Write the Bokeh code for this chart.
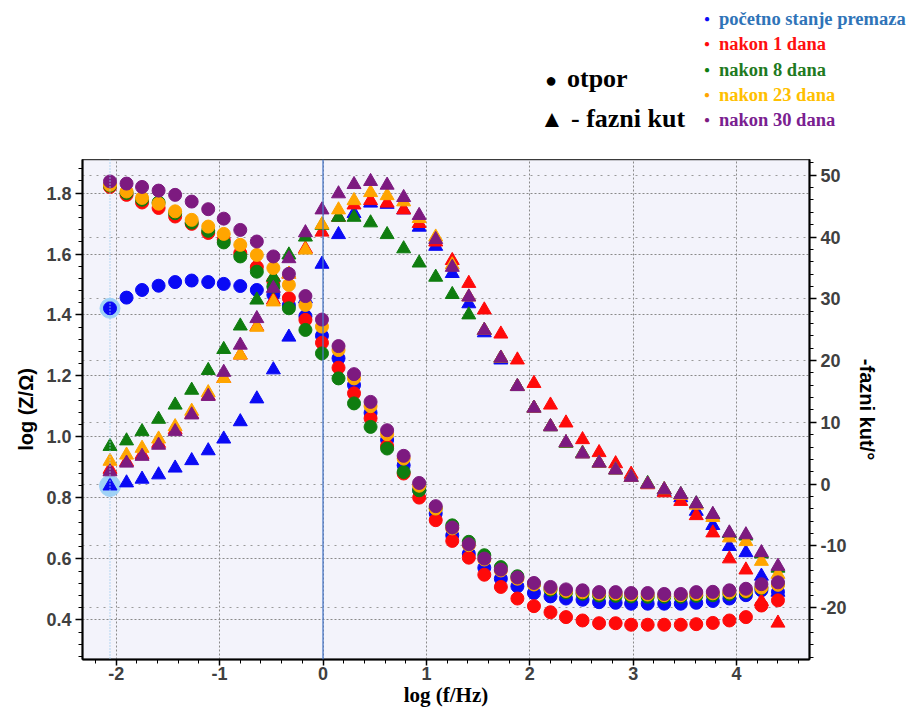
from bokeh.plotting import figure
from bokeh.layouts import column
from bokeh.models import (Range1d, LinearAxis, SingleIntervalTicker, PrintfTickFormatter,
                          Grid, Span, Div)
from bokeh.embed import file_html
from bokeh.resources import INLINE

# log of frequency (Hz)
log_f = [-2.06, -1.90, -1.75, -1.59, -1.43, -1.27, -1.11, -0.96, -0.80, -0.64,
         -0.48, -0.33, -0.17, -0.01, 0.15, 0.30, 0.46, 0.62, 0.78, 0.93,
         1.09, 1.25, 1.41, 1.56, 1.72, 1.88, 2.04, 2.20, 2.35, 2.51,
         2.67, 2.83, 2.98, 3.14, 3.30, 3.46, 3.61, 3.77, 3.93, 4.09,
         4.24, 4.40]

# log |Z| (left axis)
z_pocetno = [1.422, 1.457, 1.482, 1.496, 1.508, 1.513, 1.508, 1.502, 1.495, 1.482,
             1.466, 1.432, 1.396, 1.332, 1.258, 1.170, 1.079, 0.990, 0.907, 0.825,
             0.749, 0.677, 0.617, 0.571, 0.535, 0.510, 0.488, 0.477, 0.470, 0.466,
             0.458, 0.456, 0.453, 0.453, 0.453, 0.453, 0.456, 0.462, 0.470, 0.481,
             0.497, 0.492]
z_1dan = [1.820, 1.794, 1.769, 1.751, 1.723, 1.699, 1.669, 1.647, 1.603, 1.557,
          1.510, 1.455, 1.384, 1.309, 1.227, 1.143, 1.061, 0.970, 0.880, 0.801,
          0.727, 0.659, 0.604, 0.548, 0.508, 0.470, 0.445, 0.425, 0.409, 0.398,
          0.389, 0.389, 0.384, 0.384, 0.384, 0.384, 0.386, 0.390, 0.398, 0.409,
          0.447, 0.464]
z_8dana = [1.824, 1.800, 1.778, 1.769, 1.734, 1.703, 1.676, 1.638, 1.592, 1.542,
           1.493, 1.422, 1.351, 1.274, 1.192, 1.110, 1.033, 0.962, 0.885, 0.825,
           0.766, 0.710, 0.656, 0.612, 0.573, 0.543, 0.517, 0.499, 0.490, 0.486,
           0.480, 0.479, 0.477, 0.476, 0.476, 0.476, 0.479, 0.481, 0.485, 0.492,
           0.505, 0.518]
z_23dana = [1.827, 1.805, 1.784, 1.765, 1.740, 1.712, 1.690, 1.666, 1.630, 1.597,
            1.554, 1.499, 1.433, 1.362, 1.285, 1.192, 1.101, 1.009, 0.929, 0.840,
            0.765, 0.700, 0.645, 0.598, 0.562, 0.535, 0.516, 0.503, 0.495, 0.491,
            0.486, 0.486, 0.483, 0.483, 0.481, 0.481, 0.485, 0.487, 0.490, 0.495,
            0.506, 0.515]
z_30dana = [1.838, 1.831, 1.820, 1.808, 1.794, 1.772, 1.747, 1.716, 1.679, 1.641,
            1.592, 1.535, 1.462, 1.385, 1.298, 1.206, 1.115, 1.022, 0.938, 0.849,
            0.773, 0.703, 0.648, 0.601, 0.565, 0.539, 0.521, 0.508, 0.500, 0.497,
            0.491, 0.491, 0.488, 0.488, 0.485, 0.485, 0.491, 0.492, 0.497, 0.502,
            0.517, 0.523]

# -phase angle in degrees (right axis)
ph_pocetno = [-0.3, 0.2, 0.8, 1.5, 2.6, 3.8, 5.4, 7.3, 10.1, 13.8,
              18.5, 23.8, 30.0, 35.6, 40.4, 43.8, 45.5, 45.3, 44.4, 41.6,
              38.5, 34.1, 29.2, 24.5, 20.1, 15.8, 12.3, 9.3, 6.7, 4.9,
              3.4, 2.3, 1.1, 0.0, -1.2, -2.2, -4.4, -6.7, -10.1, -11.1,
              -14.9, -17.5]
ph_1dan = [2.4, 3.6, 4.8, 6.6, 8.8, 11.3, 14.3, 17.1, 20.9, 25.5,
           29.8, 34.0, 38.1, 40.8, 43.2, 45.2, 45.9, 45.5, 44.4, 42.2,
           39.2, 36.2, 32.5, 28.2, 24.3, 20.1, 16.3, 12.8, 9.9, 7.2,
           5.1, 3.3, 1.6, -0.1, -1.4, -2.8, -5.1, -7.9, -12.1, -13.9,
           -19.0, -22.5]
ph_8dana = [6.1, 7.0, 8.5, 10.5, 12.8, 15.2, 18.4, 21.8, 25.6, 29.8,
            33.5, 37.1, 40.0, 41.9, 43.2, 43.2, 42.3, 40.4, 38.1, 35.8,
            33.5, 30.7, 27.4, 24.9, 20.4, 15.8, 12.3, 9.3, 6.6, 5.0,
            3.4, 2.3, 1.1, 0.1, -0.9, -1.7, -3.2, -5.0, -8.0, -8.4,
            -11.3, -13.6]
ph_23dana = [3.7, 4.7, 5.8, 7.3, 9.3, 11.8, 14.8, 17.1, 20.9, 25.4,
             29.5, 34.0, 37.9, 42.0, 44.4, 45.9, 47.2, 46.7, 45.7, 43.0,
             40.0, 35.5, 30.3, 24.9, 20.4, 15.8, 12.3, 9.3, 6.7, 4.9,
             3.4, 2.3, 1.1, 0.0, -0.9, -1.8, -3.4, -5.4, -8.7, -9.3,
             -12.5, -14.6]
ph_30dana = [2.0, 3.4, 4.5, 6.3, 8.5, 11.2, 14.2, 18.1, 22.5, 26.8,
             31.7, 36.5, 40.7, 44.4, 47.0, 48.5, 49.0, 48.4, 46.4, 43.5,
             39.6, 35.1, 30.3, 24.9, 20.4, 15.8, 12.3, 9.3, 6.7, 4.9,
             3.4, 2.3, 1.1, 0.0, -0.9, -1.7, -3.2, -4.9, -7.9, -8.2,
             -11.1, -13.3]

series_names = ["početno stanje premaza", "nakon 1 dana", "nakon 8 dana",
                "nakon 23 dana", "nakon 30 dana"]
marker_colors = ["#0a0af5", "#ff0a0a", "#0f7d0f", "#ffa500", "#7d1a80"]
text_colors = ["#2f74b8", "#ff1010", "#1f7a1f", "#ffc000", "#7a2090"]
z_series = [z_pocetno, z_1dan, z_8dana, z_23dana, z_30dana]
ph_series = [ph_pocetno, ph_1dan, ph_8dana, ph_23dana, ph_30dana]

W = 914
TOP_H = 159
MAIN_H = 551

# ---------------- legend strip (top, HTML) ----------------
def span(left, center_y, size, color, text):
    top = center_y - size / 2
    return (f'<span style="position:absolute;left:{left}px;top:{top}px;'
            f'font-size:{size}px;line-height:{size}px;color:{color};'
            f'white-space:nowrap;">{text}</span>')

parts = [
    span(545, 80, 20, "black", "●"),
    span(567, 79, 26, "black", "otpor"),
    span(540, 119, 24, "black", "▲"),
    span(571, 119, 26, "black", "- fazni kut"),
]
legend_y = [19, 44, 70, 95, 120]
for name, mc, tc, ly in zip(series_names, marker_colors, text_colors, legend_y):
    parts.append(span(704, ly, 10, mc, "●"))
    parts.append(span(719, ly, 18.5, tc, name))

leg_html = ('<div style="position:relative;width:914px;height:159px;'
            'font-family:\'Liberation Serif\',serif;font-weight:bold;">'
            + "".join(parts) + "</div>")
leg = Div(text=leg_html, width=W, height=TOP_H, margin=0)

# ---------------- main chart ----------------
p = figure(width=W, height=MAIN_H, output_backend="svg", toolbar_location=None,
           x_range=Range1d(-2.326, 4.705), y_range=Range1d(0.27, 1.91),
           min_border_left=82, min_border_right=105, min_border_top=0,
           min_border_bottom=51)
p.extra_y_ranges = {"phase": Range1d(-28.4, 52.55)}
p.background_fill_color = "#f3f3fb"
p.border_fill_color = "white"
p.outline_line_color = "#3a3a3a"
p.outline_line_width = 1.5

tick_font = "Liberation Sans"
x_ticker = SingleIntervalTicker(interval=1, num_minor_ticks=5)
y_ticker = SingleIntervalTicker(interval=0.2, num_minor_ticks=5)
ph_ticker = SingleIntervalTicker(interval=10, num_minor_ticks=5)

xa = p.xaxis[0]
xa.ticker = x_ticker
xa.formatter = PrintfTickFormatter(format="%d")
xa.axis_label = "log (f/Hz)"
ya = p.yaxis[0]
ya.ticker = y_ticker
ya.formatter = PrintfTickFormatter(format="%.1f")
ya.axis_label = "log (Z/Ω)"
ra = LinearAxis(y_range_name="phase", ticker=ph_ticker, axis_label="-fazni kut/°",
                formatter=PrintfTickFormatter(format="%d"))
p.add_layout(ra, "right")

for ax in (xa, ya, ra):
    ax.axis_line_color = "black"
    ax.axis_line_width = 2
    ax.major_tick_line_color = "black"
    ax.minor_tick_line_color = "black"
    ax.major_tick_line_width = 1.5
    ax.major_tick_out = 7
    ax.major_tick_in = 0
    ax.minor_tick_out = 4
    ax.minor_tick_in = 0
    ax.major_label_text_font = tick_font
    ax.major_label_text_font_size = "18px"
    ax.major_label_text_font_style = "bold"
    ax.major_label_text_color = "#404040"
    ax.major_label_standoff = 4
    ax.axis_label_text_font = tick_font
    ax.axis_label_text_font_size = "20px"
    ax.axis_label_text_font_style = "bold"
    ax.axis_label_text_color = "black"
    ax.axis_label_standoff = 6
xa.axis_label_standoff = 0
xa.major_label_standoff = 1
xa.major_tick_out = 6
xa.axis_label_text_font = "Liberation Sans Narrow"
xa.axis_label_text_font_size = "21px"

p.xgrid.ticker = x_ticker
p.ygrid.ticker = y_ticker
for g in (p.xgrid[0], p.ygrid[0]):
    g.grid_line_color = "#8a8a8a"
    g.grid_line_dash = "2 2"
    g.grid_line_width = 1
ph_grid = Grid(dimension=1, ticker=ph_ticker, y_range_name="phase",
               grid_line_color="#9a9a9a", grid_line_dash="2 5", grid_line_width=1)
p.add_layout(ph_grid)

p.add_layout(Span(location=0, dimension="height", line_color="#4a78c8", line_width=1.3))
p.add_layout(Span(location=log_f[0], dimension="height", line_color="#9ccbef",
                  line_dash="1 2", line_width=1.5))

# highlighted first points of the initial-state series
p.scatter([log_f[0]], [z_pocetno[0]], size=20, marker="circle",
          fill_color="#9fd2f6", line_color="#9fd2f6")
p.scatter([log_f[0]], [ph_pocetno[0]], size=21, marker="circle", y_range_name="phase",
          fill_color="#9fd2f6", line_color="#9fd2f6")

for z, ph, c in zip(z_series, ph_series, marker_colors):
    p.scatter(log_f, z, marker="circle", size=13, fill_color=c, line_color=c)
    p.scatter(log_f, ph, marker="triangle", size=14, fill_color=c, line_color=c,
              y_range_name="phase")

layout = column(leg, p, spacing=0)
open("out.html", "w").write(file_html(layout, INLINE))
